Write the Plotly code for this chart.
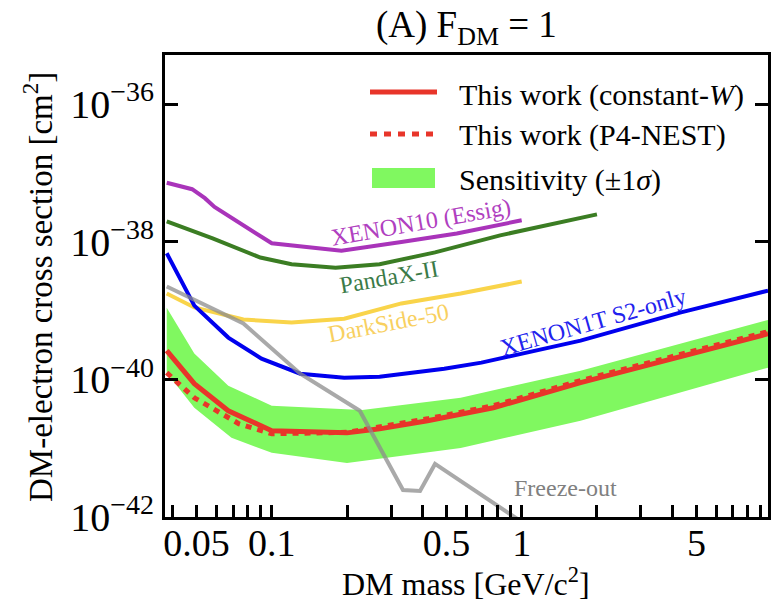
import plotly.graph_objects as go
import numpy as np

# ---------------- data ----------------
mass_xenon10 = [0.038, 0.048, 0.054, 0.059, 0.10, 0.19, 0.33, 0.55, 1.0]
sigma_xenon10 = [7.2e-38, 5.8e-38, 4.3e-38, 3.2e-38, 9.5e-39, 7.4e-39, 9.9e-39, 1.32e-38, 2.05e-38]

mass_pandax = [0.038, 0.058, 0.09, 0.12, 0.18, 0.27, 0.45, 0.82, 2.0]
sigma_pandax = [1.98e-38, 1.12e-38, 5.9e-39, 4.7e-39, 4.2e-39, 4.7e-39, 7.0e-39, 1.24e-38, 2.5e-38]

mass_darkside = [0.038, 0.049, 0.077, 0.12, 0.195, 0.33, 0.57, 1.0]
sigma_darkside = [1.77e-39, 1.11e-39, 7.4e-40, 6.7e-40, 7.6e-40, 1.27e-39, 1.77e-39, 2.64e-39]

mass_xenon1t = [0.038, 0.0426, 0.049, 0.067, 0.091, 0.13, 0.195, 0.27, 0.49, 0.69, 1.72, 4.3, 9.67]
sigma_xenon1t = [6.8e-39, 3.0e-39, 1.18e-39, 4.05e-40, 2.0e-40, 1.21e-40, 1.06e-40, 1.09e-40,
                 1.43e-40, 1.75e-40, 3.66e-40, 9.35e-40, 1.95e-39]

mass_constw = [0.038, 0.049, 0.067, 0.1, 0.2, 0.27, 0.42, 0.77, 1.72, 2.9, 9.67]
sigma_constw = [2.62e-40, 8.65e-41, 3.5e-41, 1.79e-41, 1.67e-41, 1.91e-41, 2.5e-41, 3.87e-41,
                8.95e-41, 1.48e-40, 4.6e-40]

mass_p4nest = [0.038, 0.049, 0.074, 0.1, 0.2, 0.42, 0.77, 1.72, 2.9, 9.67]
sigma_p4nest = [1.25e-40, 5.4e-41, 2.26e-41, 1.62e-41, 1.7e-41, 2.67e-41, 4.14e-41, 9.6e-41,
                1.58e-40, 4.94e-40]

mass_band_hi = [0.038, 0.049, 0.067, 0.1, 0.23, 0.57, 1.72, 9.67]
sigma_band_hi = [1.1e-39, 2.37e-40, 8.1e-41, 4.14e-41, 3.6e-41, 5.4e-41, 1.34e-40, 7.3e-40]
mass_band_lo = [0.038, 0.049, 0.069, 0.1, 0.2, 0.57, 1.72, 9.67]
sigma_band_lo = [1.25e-40, 3.87e-41, 1.42e-41, 8.55e-42, 6.1e-42, 1.01e-41, 2.5e-41, 1.48e-40]

mass_freeze = [0.038, 0.077, 0.13, 0.225, 0.335, 0.392, 0.45, 0.90, 1.0]
sigma_freeze = [2.24e-39, 6.5e-40, 1.21e-40, 3.5e-41, 2.47e-42, 2.39e-42, 5.9e-42, 1.1e-42, 8.5e-43]

x_tick_vals = [0.04, 0.05, 0.06, 0.07, 0.08, 0.09, 0.1, 0.2, 0.3, 0.4, 0.5, 0.6, 0.7, 0.8, 0.9,
               1, 2, 3, 4, 5, 6, 7, 8, 9]
x_tick_text = ["", "0.05", "", "", "", "", "0.1", "", "", "", "0.5", "", "", "", "",
               "1", "", "", "", "5", "", "", "", ""]
y_tick_vals = [1e-42, 1e-40, 1e-38, 1e-36]
y_tick_text = ["10<sup>\u221242</sup>", "10<sup>\u221240</sup>", "10<sup>\u221238</sup>", "10<sup>\u221236</sup>"]

# ---------------- style ----------------
FONT = "Liberation Serif, Times New Roman, serif"
RED = "#E8352A"
BAND = "#80F860"
PURPLE = "#A934BA"
DGREEN = "#3B7D23"
YELLOW = "#F9D44A"
BLUE = "#0000EE"
GRAY = "rgba(140,140,140,0.75)"

W, H = 782, 606
L, R, T, B = 165, 768, 55, 517


def px(x):
    return (x - L) / (R - L)


def py(y):
    return (B - y) / (B - T)


fig = go.Figure()

# sensitivity band
fig.add_trace(go.Scatter(
    x=mass_band_hi + mass_band_lo[::-1],
    y=sigma_band_hi + sigma_band_lo[::-1],
    fill="toself", fillcolor=BAND, line=dict(width=0, color=BAND),
    mode="lines", hoverinfo="skip", name="Sensitivity (±1σ)"))

fig.add_trace(go.Scatter(x=mass_p4nest, y=sigma_p4nest, mode="lines",
                         line=dict(color=RED, width=5, dash="6px,6px"), name="This work (P4-NEST)"))
fig.add_trace(go.Scatter(x=mass_constw, y=sigma_constw, mode="lines",
                         line=dict(color=RED, width=5), name="This work (constant-W)"))
fig.add_trace(go.Scatter(x=mass_xenon10, y=sigma_xenon10, mode="lines",
                         line=dict(color=PURPLE, width=4), name="XENON10 (Essig)"))
fig.add_trace(go.Scatter(x=mass_pandax, y=sigma_pandax, mode="lines",
                         line=dict(color=DGREEN, width=4), name="PandaX-II"))
fig.add_trace(go.Scatter(x=mass_darkside, y=sigma_darkside, mode="lines",
                         line=dict(color=YELLOW, width=4), name="DarkSide-50"))
fig.add_trace(go.Scatter(x=mass_xenon1t, y=sigma_xenon1t, mode="lines",
                         line=dict(color=BLUE, width=4), name="XENON1T S2-only"))
fig.add_trace(go.Scatter(x=mass_freeze, y=sigma_freeze, mode="lines",
                         line=dict(color=GRAY, width=4), name="Freeze-out"))

annotations = []
shapes = []

# title
annotations.append(dict(x=px(466), y=py(28), xref="paper", yref="paper",
                        text="(A) F<sub>DM</sub> = 1", showarrow=False,
                        font=dict(family=FONT, size=37, color="black"),
                        xanchor="center", yanchor="middle"))
# axis titles
annotations.append(dict(x=px(466), y=py(582), xref="paper", yref="paper",
                        text="DM mass [GeV/c<sup>2</sup>]", showarrow=False,
                        font=dict(family=FONT, size=32, color="black"),
                        xanchor="center", yanchor="middle"))
annotations.append(dict(x=px(38), y=py(287), xref="paper", yref="paper",
                        text="DM-electron cross section [cm<sup>2</sup>]", showarrow=False,
                        textangle=-90, font=dict(family=FONT, size=33, color="black"),
                        xanchor="center", yanchor="middle"))

# curve labels
curve_labels = [
    ("XENON10 (Essig)", 421, 222, -10, "#B040C0"),
    ("PandaX-II", 389, 277, -10, "#3A7A48"),
    ("DarkSide-50", 388, 323, -11, "#F8D060"),
    ("XENON1T S2-only", 593, 322, -16, "#2222EE"),
    ("Freeze-out", 565, 488, 0, "#808080"),
]
for txt, cx, cy, ang, col in curve_labels:
    annotations.append(dict(x=px(cx), y=py(cy), xref="paper", yref="paper", text=txt,
                            showarrow=False, textangle=ang,
                            font=dict(family=FONT, size=24, color=col),
                            xanchor="center", yanchor="middle"))

# custom legend
leg_items = [
    ("This work (constant-<i>W</i>)", 95),
    ("This work (P4-NEST)", 135),
    ("Sensitivity (\u00b11<i>\u03c3</i>)", 180),
]
for txt, cy in leg_items:
    annotations.append(dict(x=px(457), y=py(cy), xref="paper", yref="paper", text=txt,
                            showarrow=False, font=dict(family=FONT, size=30, color="black"),
                            xanchor="left", yanchor="middle"))
shapes.append(dict(type="line", xref="paper", yref="paper", x0=px(370), x1=px(437),
                   y0=py(92), y1=py(92), line=dict(color=RED, width=5)))
shapes.append(dict(type="line", xref="paper", yref="paper", x0=px(370), x1=px(437),
                   y0=py(134), y1=py(134), line=dict(color=RED, width=5, dash="7px,7px")))
shapes.append(dict(type="rect", xref="paper", yref="paper", x0=px(372), x1=px(435),
                   y0=py(188), y1=py(168), line=dict(width=0), fillcolor=BAND))

fig.update_layout(
    width=W, height=H,
    margin=dict(l=L, r=W - R, t=T, b=H - B),
    plot_bgcolor="white", paper_bgcolor="white",
    showlegend=False,
    annotations=annotations, shapes=shapes,
    font=dict(family=FONT, color="black"),
)
fig.update_xaxes(type="log", range=[np.log10(0.0374), np.log10(9.67)],
                 tickvals=x_tick_vals, ticktext=x_tick_text,
                 ticks="inside", ticklen=12, tickwidth=3, tickcolor="black",
                 showline=True, linecolor="black", linewidth=3, mirror=True,
                 showgrid=False, zeroline=False,
                 tickfont=dict(family=FONT, size=38, color="black"))
try:
    fig.update_xaxes(ticklabelstandoff=-10)
except Exception:
    pass
fig.update_yaxes(type="log", range=[-42, -35.286],
                 tickvals=y_tick_vals, ticktext=y_tick_text,
                 ticks="inside", ticklen=13, tickwidth=3, tickcolor="black",
                 showline=True, linecolor="black", linewidth=3, mirror="ticks",
                 showgrid=False, zeroline=False,
                 tickfont=dict(family=FONT, size=40, color="black"))

fig.write_html("out.html")
